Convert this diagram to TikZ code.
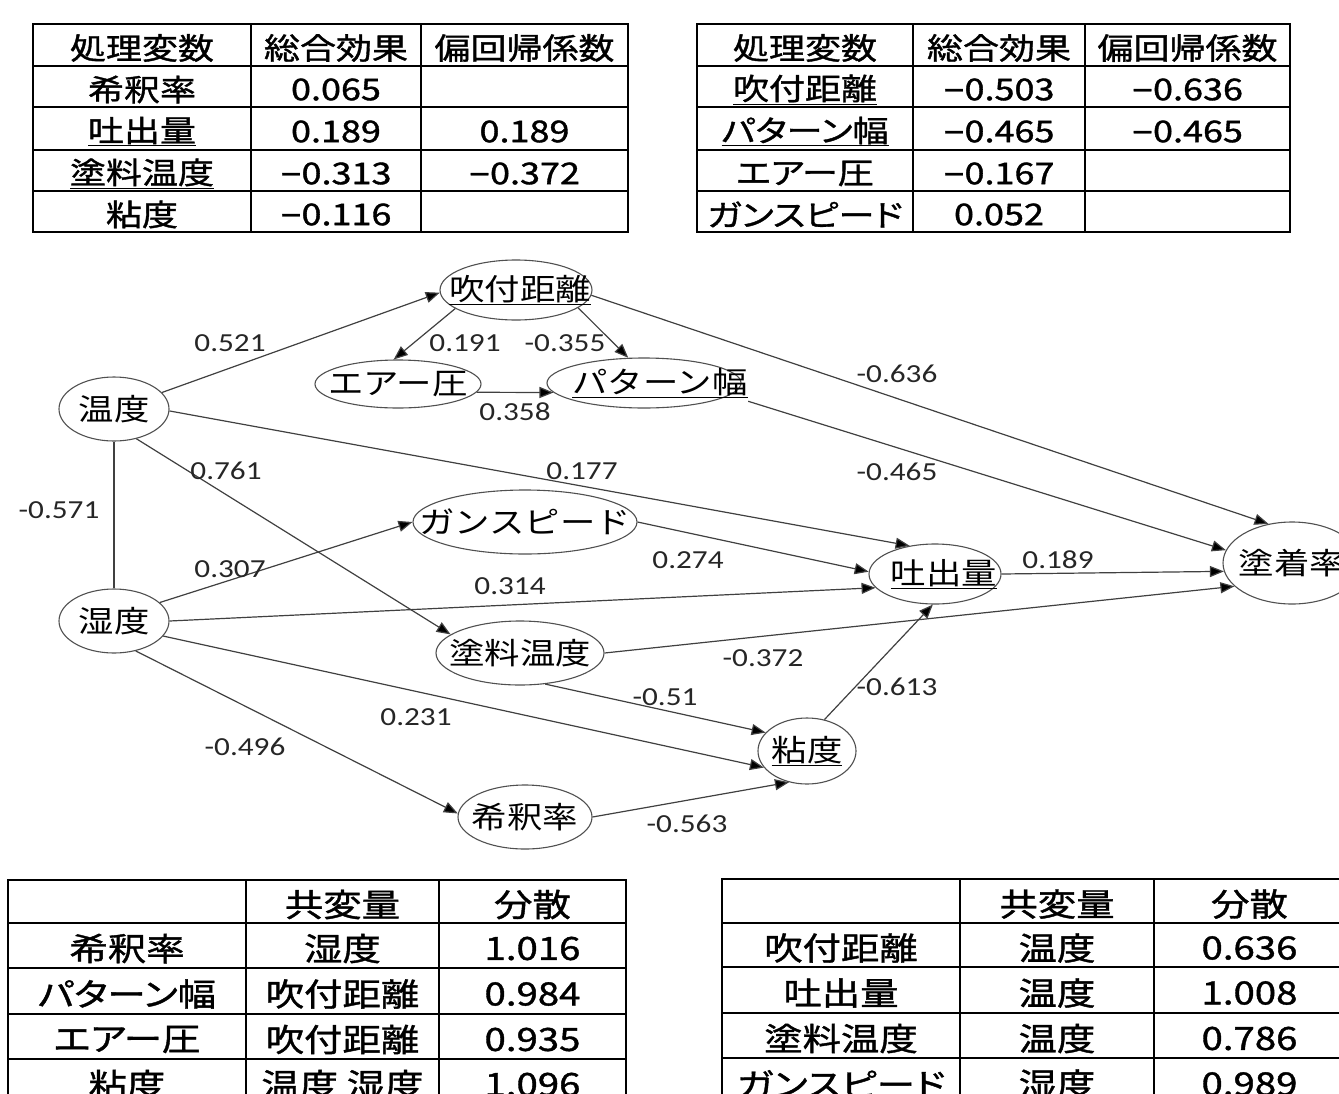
\documentclass[tikz,border=0pt]{standalone}
\usepackage{fontspec}
\usetikzlibrary{arrows.meta,shapes.geometric}
\newfontfamily\cjkfont[FakeStretch=1.18]{Noto Sans CJK JP}
\newfontfamily\tabfont[FakeStretch=1.2,FakeBold=1.2,CharacterWidth=AlternateProportional]{Noto Sans CJK JP}
\newfontfamily\labfont[FakeStretch=1.2]{Carlito}
\newfontfamily\minfont[FakeStretch=1.2,FakeBold=1.2]{Liberation Sans}
\newcommand\mn{{\minfont\char"2212}}
\definecolor{edgec}{HTML}{404040}
\definecolor{ellc}{HTML}{505050}
\definecolor{labc}{HTML}{262626}
\begin{document}
\begin{tikzpicture}[x=1pt,y=-1pt,
  var/.style={ellipse,draw=ellc,line width=1.1pt,inner sep=0pt,font=\cjkfont\fontsize{30}{34}\selectfont},
  arr/.style={draw=edgec,line width=1.2pt,-{Triangle[length=14pt,width=11pt,fill=black]}},
  lnk/.style={draw=edgec,line width=1.2pt},
  elab/.style={inner sep=0pt,text=labc,font=\labfont\fontsize{26}{30}\selectfont},
  tcell/.style={inner sep=0pt,yshift=-3pt,font=\tabfont\fontsize{30}{34}\selectfont},
  bcell/.style={inner sep=0pt,yshift=-3pt,font=\tabfont\fontsize{32}{36}\selectfont},
  tline/.style={line width=1.7pt},
  tborder/.style={line width=2.5pt}]
\fill[white] (0,0) rectangle (1339,1093);
\useasboundingbox (0,0) rectangle (1339,1093);
\clip (0,0) rectangle (1339,1093);

% ---------- top-left table ----------
\draw[tborder] (33,24) rectangle (628,232);
\foreach \yy in {66,107,150,191} \draw[tline] (33,\yy) -- (628,\yy);
\foreach \xx in {251,421} \draw[tline] (\xx,24) -- (\xx,232);
\node[tcell] (a11) at (142,45) {処理変数};
\node[tcell] (a12) at (336,45) {総合効果};
\node[tcell] (a13) at (524.5,45) {偏回帰係数};
\node[tcell] (a21) at (142,86.5) {希釈率};
\node[tcell] (a22) at (336,86.5) {0.065};
\node[tcell] (a31) at (142,128.5) {\underline{吐出量}};
\node[tcell] (a32) at (336,128.5) {0.189};
\node[tcell] (a33) at (524.5,128.5) {0.189};
\node[tcell] (a41) at (142,170.5) {\underline{塗料温度}};
\node[tcell] (a42) at (336,170.5) {\mn0.313};
\node[tcell] (a43) at (524.5,170.5) {\mn0.372};
\node[tcell] (a51) at (142,211.5) {粘度};
\node[tcell] (a52) at (336,211.5) {\mn0.116};

% ---------- top-right table ----------
\draw[tborder] (697,24) rectangle (1290,232);
\foreach \yy in {66,107,150,191} \draw[tline] (697,\yy) -- (1290,\yy);
\foreach \xx in {913,1085} \draw[tline] (\xx,24) -- (\xx,232);
\node[tcell] (b11) at (805,45) {処理変数};
\node[tcell] (b12) at (999,45) {総合効果};
\node[tcell] (b13) at (1187.5,45) {偏回帰係数};
\node[tcell] (b21) at (805,86.5) {\underline{吹付距離}};
\node[tcell] (b22) at (999,86.5) {\mn0.503};
\node[tcell] (b23) at (1187.5,86.5) {\mn0.636};
\node[tcell] (b31) at (805,128.5) {\underline{パターン幅}};
\node[tcell] (b32) at (999,128.5) {\mn0.465};
\node[tcell] (b33) at (1187.5,128.5) {\mn0.465};
\node[tcell] (b41) at (805,170.5) {エアー圧};
\node[tcell] (b42) at (999,170.5) {\mn0.167};
\node[tcell] (b51) at (805,211.5) {ガンスピード};
\node[tcell] (b52) at (999,211.5) {0.052};

% ---------- bottom-left table ----------
\draw[tborder] (8,880) rectangle (626,1120);
\foreach \yy in {923,968,1014} \draw[tline] (8,\yy) -- (626,\yy);
\draw[tborder] (8,1059) -- (626,1059);
\foreach \xx in {246,439} \draw[tline] (\xx,880) -- (\xx,1120);
\node[bcell] (c12) at (342.5,901.5) {共変量};
\node[bcell] (c13) at (532.5,901.5) {分散};
\node[bcell] (c21) at (127,945.5) {希釈率};
\node[bcell] (c22) at (342.5,945.5) {湿度};
\node[bcell] (c23) at (532.5,945.5) {1.016};
\node[bcell] (c31) at (127,991) {パターン幅};
\node[bcell] (c32) at (342.5,991) {吹付距離};
\node[bcell] (c33) at (532.5,991) {0.984};
\node[bcell] (c41) at (127,1036.5) {エアー圧};
\node[bcell] (c42) at (342.5,1036.5) {吹付距離};
\node[bcell] (c43) at (532.5,1036.5) {0.935};
\node[bcell] (c51) at (127,1081.5) {粘度};
\node[bcell] (c52) at (342.5,1081.5) {温度 湿度};
\node[bcell] (c53) at (532.5,1081.5) {1.096};

% ---------- bottom-right table ----------
\draw[tborder] (722,879) rectangle (1345,1120);
\foreach \yy in {923,967,1013} \draw[tline] (722,\yy) -- (1345,\yy);
\draw[tborder] (722,1058) -- (1345,1058);
\foreach \xx in {960,1154} \draw[tline] (\xx,879) -- (\xx,1120);
\node[bcell] (d12) at (1057,901) {共変量};
\node[bcell] (d13) at (1249.5,901) {分散};
\node[bcell] (d21) at (841,945) {吹付距離};
\node[bcell] (d22) at (1057,945) {温度};
\node[bcell] (d23) at (1249.5,945) {0.636};
\node[bcell] (d31) at (841,990) {吐出量};
\node[bcell] (d32) at (1057,990) {温度};
\node[bcell] (d33) at (1249.5,990) {1.008};
\node[bcell] (d41) at (841,1035.5) {塗料温度};
\node[bcell] (d42) at (1057,1035.5) {温度};
\node[bcell] (d43) at (1249.5,1035.5) {0.786};
\node[bcell] (d51) at (841,1081) {ガンスピード};
\node[bcell] (d52) at (1057,1081) {湿度};
\node[bcell] (d53) at (1249.5,1081) {0.989};

% ---------- path diagram nodes ----------
\node[var,minimum width=110pt,minimum height=64pt] (ont) at (114,409) {\makebox[0pt]{温度}};
\node[var,minimum width=110pt,minimum height=64pt] (sit) at (114,621) {\makebox[0pt]{湿度}};
\node[var,minimum width=152pt,minimum height=60pt] (fuk) at (516,290) {\makebox[0pt]{\hspace*{8pt}\underline{吹付距離}}};
\node[var,minimum width=166pt,minimum height=48pt] (air) at (398,384) {\makebox[0pt]{エアー圧}};
\node[var,minimum width=194pt,minimum height=50pt] (pat) at (644,383) {\makebox[0pt]{\hspace*{32pt}\underline{パターン幅}}};
\node[var,minimum width=224pt,minimum height=64pt] (gun) at (525,522) {\makebox[0pt]{ガンスピード}};
\node[var,minimum width=132pt,minimum height=60pt] (tos) at (935,574) {\makebox[0pt]{\hspace*{18pt}\underline{吐出量}}};
\node[var,minimum width=138pt,minimum height=82pt] (tcr) at (1292,563) {\makebox[0pt]{塗着率}};
\node[var,minimum width=168pt,minimum height=64pt] (tor) at (520,653) {\makebox[0pt]{塗料温度}};
\node[var,minimum width=98pt,minimum height=66pt] (nen) at (807,751) {\makebox[0pt]{\underline{粘度}}};
\node[var,minimum width=134pt,minimum height=64pt] (kis) at (525,817) {\makebox[0pt]{希釈率}};

% ---------- connectors ----------
\draw[arr] (ont.19) -- (fuk.182);
\draw[arr] (fuk.197) -- (air.100);
\draw[arr] (fuk.344) -- (pat.122);
\draw[arr] (air.354) -- (pat.186);
\draw[arr] (fuk.356) -- (tcr.121);
\draw[arr] ([xshift=36pt]pat.345) -- (tcr.169);
\draw[arr] (ont.358) -- (tos.132);
\draw[arr] (ont.307) -- (tor.165);
\draw[lnk] (ont.south) -- (sit.north);
\draw[arr] (sit.22) -- (gun.180);
\draw[arr] (gun.0) -- (tos.178);
\draw[arr] (sit.0) -- (tos.193);
\draw[arr] (tor.0) -- (tcr.202);
\draw[arr] (tor.309) -- (nen.156);
\draw[arr] (sit.343) -- (nen.201);
\draw[arr] (sit.306) -- (kis.177);
\draw[arr] (kis.0) -- (nen.240);
\draw[arr] (nen.61) -- (tos.266);
\draw[arr] (tos.0) -- (tcr.187);

% ---------- connector labels ----------
\node[elab] (l1) at (230,343) {0.521};
\node[elab] (l2) at (465,343) {0.191};
\node[elab] (l3) at (565,343) {-0.355};
\node[elab] (l4) at (515,412) {0.358};
\node[elab] (l5) at (897,374) {-0.636};
\node[elab] (l6) at (897,472) {-0.465};
\node[elab] (l7) at (582,471) {0.177};
\node[elab] (l8) at (226,471) {0.761};
\node[elab] (l9) at (59,510) {-0.571};
\node[elab] (l10) at (230,569) {0.307};
\node[elab] (l11) at (688,560) {0.274};
\node[elab] (l12) at (510,586) {0.314};
\node[elab] (l13) at (763,658) {-0.372};
\node[elab] (l14) at (665,697) {-0.51};
\node[elab] (l15) at (416,717) {0.231};
\node[elab] (l16) at (245,747) {-0.496};
\node[elab] (l17) at (687,824) {-0.563};
\node[elab] (l18) at (897,687) {-0.613};
\node[elab] (l19) at (1058,560) {0.189};
\end{tikzpicture}
\end{document}
